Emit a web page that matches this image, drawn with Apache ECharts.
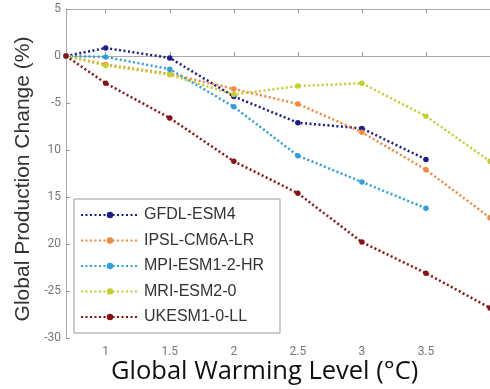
<!DOCTYPE html>
<html>
<head>
<meta charset="utf-8">
<script src="https://cdn.jsdelivr.net/npm/echarts@6/dist/echarts.min.js"></script>
<style>
html, body { margin: 0; padding: 0; background: #fff; }
#chart { width: 490px; height: 389px; }
</style>
</head>
<body>
<div id="chart"></div>
<script>
// warming levels (°C), first point is the baseline
var warming = [0.69, 1, 1.5, 2, 2.5, 3, 3.5, 4];
var xTicks = [1, 1.5, 2, 2.5, 3, 3.5];
var yTickValues = [5, 0, -5, -10, -15, -20, -25, -30];
var yTickLabels = ['5', '0', '-5', '10', '15', '20', '-25', '-30'];

var modelNames = ['GFDL-ESM4', 'IPSL-CM6A-LR', 'MPI-ESM1-2-HR', 'MRI-ESM2-0', 'UKESM1-0-LL'];
var gfdl = [0, 0.85, -0.2, -4.3, -7.1, -7.7, -11.0];
var ipsl = [0, -0.9, -1.9, -3.5, -5.1, -8.1, -12.1, -17.2];
var mpi = [0, -0.1, -1.4, -5.4, -10.6, -13.4, -16.2];
var mri = [0, -1.0, -2.0, -4.1, -3.2, -2.9, -6.4, -11.2];
var ukesm = [0, -2.9, -6.6, -11.2, -14.6, -19.8, -23.1, -26.8];
var colors = ['#1c1c8f', '#f5873a', '#2f9fe0', '#c3cf2c', '#8a1212'];

var allValues = [gfdl, ipsl, mpi, mri, ukesm];

function pairs(vals) {
    var out = [];
    for (var i = 0; i < vals.length; i++) {
        out.push([warming[i], vals[i]]);
    }
    return out;
}

var series = [];
for (var k = 0; k < modelNames.length; k++) {
    series.push({
        name: modelNames[k],
        type: 'line',
        data: pairs(allValues[k]),
        symbol: 'circle',
        symbolSize: 5.5,
        itemStyle: { color: colors[k] },
        lineStyle: { color: colors[k], width: 2.5, type: [2, 2.5] },
        clip: true
    });
}

var myChart = echarts.init(document.getElementById('chart'));
var option = {
    animation: false,
    grid: { left: 66, top: 9, right: -6, bottom: 51 },
    title: {
        text: 'Global Warming Level (°C)',
        left: 111,
        top: 359,
        padding: 0,
        textStyle: { fontFamily: 'Open Sans', fontSize: 25.5, fontWeight: 'normal', color: '#111' }
    },
    legend: {
        orient: 'vertical',
        left: 74,
        top: 199,
        data: modelNames,
        backgroundColor: '#fff',
        borderColor: '#999',
        borderWidth: 1,
        padding: [8, 16, 8, 6],
        itemWidth: 58,
        itemHeight: 8,
        itemGap: 9.5,
        textStyle: { fontFamily: 'Liberation Sans', fontSize: 16, color: '#333' }
    },
    xAxis: [
        {
            type: 'value',
            min: 0.69,
            max: 4,
            axisLine: { show: true, lineStyle: { color: '#aaa' } },
            axisTick: { show: true, inside: true, length: 4, customValues: xTicks, lineStyle: { color: '#999' } },
            axisLabel: { customValues: xTicks, color: '#777', fontSize: 12, margin: 8, fontFamily: 'Roboto' },
            splitLine: { show: false }
        },
        {
            type: 'value',
            position: 'top',
            min: 0.69,
            max: 4,
            axisLine: { show: true, lineStyle: { color: '#aaa' } },
            axisTick: { show: true, inside: true, length: 4, customValues: xTicks, lineStyle: { color: '#999' } },
            axisLabel: { show: false },
            splitLine: { show: false }
        }
    ],
    yAxis: {
        type: 'value',
        min: -30,
        max: 5,
        interval: 5,
        name: 'Global Production Change (%)',
        nameLocation: 'middle',
        nameGap: 32,
        nameTextStyle: { fontFamily: 'Liberation Sans', fontSize: 21, color: '#333', padding: [0, 0, 0, -11] },
        axisLine: { show: true, lineStyle: { color: '#aaa' } },
        axisTick: { show: true, inside: true, length: 4, lineStyle: { color: '#999' } },
        axisLabel: {
            color: '#777',
            fontSize: 12,
            margin: 5,
            fontFamily: 'Roboto',
            formatter: function (v) {
                var idx = yTickValues.indexOf(v);
                return idx >= 0 ? yTickLabels[idx] : '';
            }
        },
        splitLine: { show: false }
    },
    series: series
};
myChart.setOption(option);
</script>
</body>
</html>
